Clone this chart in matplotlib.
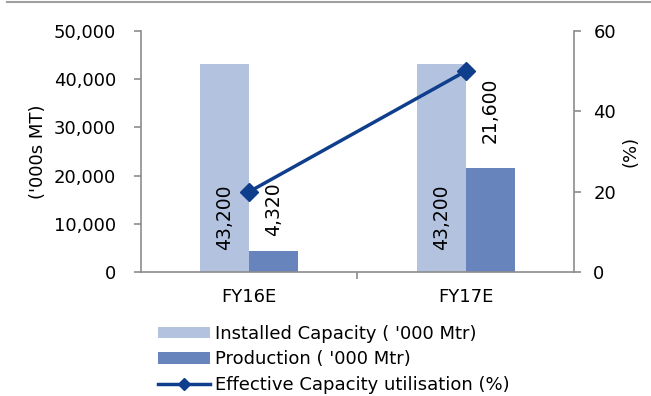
import numpy as np
import matplotlib
matplotlib.use("Agg")
import matplotlib.pyplot as plt
from matplotlib.lines import Line2D

# Capacity vs production, with utilisation on a secondary axis
years = ["FY16E", "FY17E"]
installed = [43200, 43200]
production = [4320, 21600]
utilisation = [20, 50]

c_inst = "#b3c3df"
c_prod = "#6784bd"
c_line = "#0f3f8c"
c_axis = "#8c8c8c"
fs = 13

plt.rcParams["font.family"] = ["DejaVu Sans"]
plt.rcParams["font.size"] = fs

fig = plt.figure(figsize=(6.51, 3.96), dpi=100)
ax = fig.add_axes([0.2166, 0.3131, 0.665, 0.6086])
ax2 = ax.twinx()

x = np.arange(len(years))
w = 0.227
b1 = ax.bar(x - w / 2, installed, w, color=c_inst)
b2 = ax.bar(x + w / 2, production, w, color=c_prod)

# value labels, rotated
for xi, v in zip(x, installed):
    ax.annotate(f"{v:,}", (xi - w / 2, 0), xytext=(0, 16), textcoords="offset points",
                rotation=90, ha="center", va="bottom", fontsize=13.5)
for xi, v, off in zip(x, production, [11, 18]):
    ax.annotate(f"{v:,}", (xi + w / 2, v), xytext=(0, off), textcoords="offset points",
                rotation=90, ha="center", va="bottom", fontsize=13.5)

ax2.plot(x, utilisation, color=c_line, lw=2.5, marker="D", ms=9, zorder=5)

ax.set_xlim(-0.5, 1.5)
ax.set_ylim(0, 50000)
ax.set_yticks(range(0, 50001, 10000))
ax.set_yticklabels([f"{t:,}" for t in range(0, 50001, 10000)])
ax2.set_ylim(0, 60)
ax2.set_yticks([0, 20, 40, 60])

ax.set_xticks([0.5])
ax.set_xticklabels([""])
for xi, name in zip(x, years):
    ax.text(xi, -0.065, name, transform=ax.get_xaxis_transform(), ha="center", va="top", fontsize=fs)

for a in (ax, ax2):
    a.spines["top"].set_visible(False)
    for s in ("left", "right", "bottom"):
        a.spines[s].set_color(c_axis)
        a.spines[s].set_linewidth(1.2)
    a.tick_params(colors=c_axis, labelcolor="black", length=5, width=1.2, labelsize=fs)
ax.tick_params(axis="y", pad=13)
ax2.tick_params(axis="y", pad=9)
ax.spines["right"].set_visible(False)
ax2.spines["left"].set_visible(False)
ax2.spines["bottom"].set_visible(False)

ax.set_ylabel("('000s MT)", fontsize=fs, labelpad=5)
ax2.set_ylabel("(%)", fontsize=fs, labelpad=4)

handles = [b1, b2, Line2D([], [], color=c_line, lw=2.5, marker="D", ms=6)]
labels = ["Installed Capacity ( '000 Mtr)", "Production ( '000 Mtr)", "Effective Capacity utilisation (%)"]
fig.legend(handles, labels, loc="upper left", bbox_to_anchor=(0.242, 0.18), frameon=False,
           fontsize=fs, handlelength=2.9, handleheight=0.6, handletextpad=0.3,
           labelspacing=0.42, borderaxespad=0, borderpad=0)

# thin rule along the top edge
fig.add_artist(Line2D([0.01, 1], [0.994, 0.994], color="#a0a0a0", lw=1.5, transform=fig.transFigure))

fig.savefig("out.png", dpi=100)
